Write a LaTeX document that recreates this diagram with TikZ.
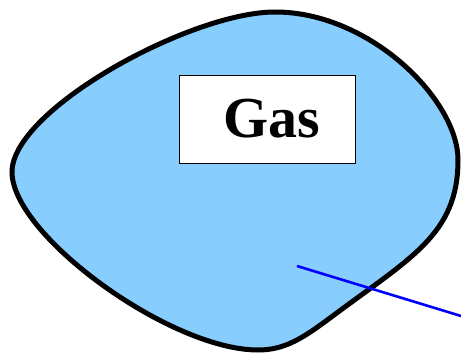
\documentclass[tikz,border=0pt]{standalone}
\usepackage{fontspec}
\setmainfont{Liberation Serif}
\begin{document}
\begin{tikzpicture}[x=1pt,y=-1pt,
  blob/.style={draw=black,line width=5pt,fill=gasblue},
  labelbox/.style={draw=black,line width=0.8pt,fill=white,minimum width=176pt,minimum height=88pt,inner sep=0pt,font=\fontsize{58}{60}\selectfont\bfseries}]
\definecolor{gasblue}{RGB}{135,206,255}
\useasboundingbox (0,0) rectangle (461,356);
\clip (0,0) rectangle (461,356);
\draw[blob] (275,12) .. controls (190,12) and (12,110) .. (12,172)
  .. controls (12,235) and (170,350) .. (258,350)
  .. controls (285,350) and (303,338) .. (330,318)
  .. controls (410,258) and (458,235) .. (458,160)
  .. controls (458,100) and (370,12) .. (275,12) -- cycle;
\node[labelbox] (gas) at (267,119) {\hspace*{10pt}Gas};
\coordinate (p1) at (297,266);
\coordinate (p2) at (465,317.2);
\draw[blue,line width=2.6pt] (p1) -- (p2);
\end{tikzpicture}
\end{document}
